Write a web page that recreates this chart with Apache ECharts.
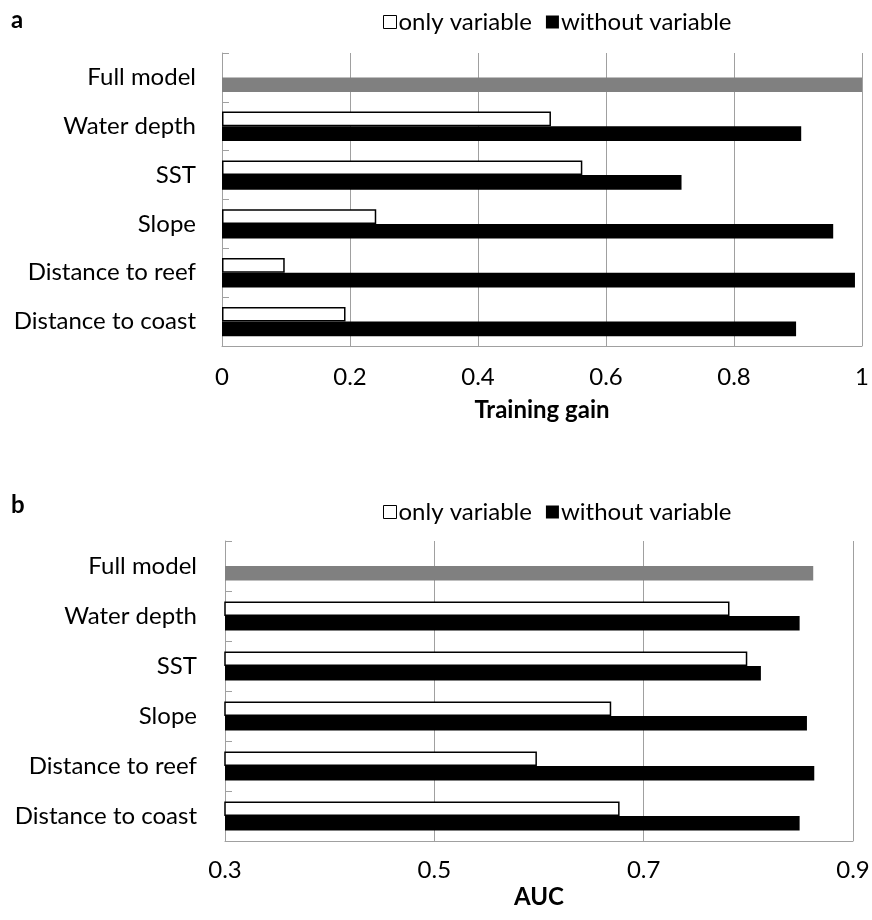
<!DOCTYPE html>
<html>
<head>
<meta charset="utf-8">
<script src="https://cdn.jsdelivr.net/npm/echarts@6/dist/echarts.min.js"></script>
<style>
html,body{margin:0;padding:0;background:#fff;}
#chart{width:872px;height:920px;}
</style>
</head>
<body>
<div id="chart"></div>
<script>
const categories = ['Full model', 'Water depth', 'SST', 'Slope', 'Distance to reef', 'Distance to coast'];
const gainOnly = [null, 0.514, 0.563, 0.241, 0.098, 0.193];
const gainWithout = [1.0, 0.905, 0.718, 0.955, 0.989, 0.897];
const aucOnly = [null, 0.782, 0.799, 0.669, 0.598, 0.677];
const aucWithout = [0.862, 0.849, 0.812, 0.856, 0.863, 0.849];
const gainTicks = ['0', '0.2', '0.4', '0.6', '0.8', '1'];
const aucTicks = ['0.3', '0.5', '0.7', '0.9'];
const seriesNames = ['only variable', 'without variable'];
const panelLabels = ['a', 'b'];
const axisTitles = ['Training gain', 'AUC'];

const FONT = 'Lato';
const FS = 24;
const GRAY_LINE = '#a0a0a0';
const FULL_GRAY = '#808080';

function withoutData(arr) {
  return arr.map((v, i) => i === 0 ? { value: v, itemStyle: { color: FULL_GRAY } } : v);
}

function yAxisCfg(gridIndex, margin) {
  return {
    type: 'category', gridIndex, data: categories, inverse: true,
    axisLine: { show: true, lineStyle: { color: GRAY_LINE, width: 1 } },
    axisTick: { show: true, inside: true, length: 7, alignWithLabel: false, lineStyle: { color: GRAY_LINE } },
    axisLabel: { fontFamily: FONT, fontSize: FS, color: '#000', margin },
    splitLine: { show: false }
  };
}

function xAxisCfg(gridIndex, min, max, ticks, name, labelMargin, nameGap) {
  return {
    type: 'value', gridIndex, min, max, interval: 0.2,
    axisLine: { show: true, lineStyle: { color: GRAY_LINE, width: 1 } },
    axisTick: { show: false },
    splitLine: { show: true, lineStyle: { color: GRAY_LINE, width: 1 } },
    axisLabel: {
      fontFamily: FONT, fontSize: FS, color: '#000', margin: labelMargin,
      formatter: (v) => {
        const idx = Math.round((v - min) / 0.2);
        return ticks[idx] !== undefined ? ticks[idx] : '';
      }
    },
    name, nameLocation: 'middle', nameGap,
    nameTextStyle: { fontFamily: FONT, fontSize: FS, fontWeight: 'bold', color: '#000' }
  };
}

function legendCfg(top) {
  return {
    top, left: 378, itemWidth: 13, itemHeight: 13, itemGap: 14,
    icon: 'rect',
    textStyle: { fontFamily: FONT, fontSize: FS, color: '#000', padding: [0, 0, 0, -3] },
    data: [
      { name: seriesNames[0], itemStyle: { color: '#fff', borderColor: '#000', borderWidth: 1 } },
      { name: seriesNames[1], itemStyle: { color: '#000' } }
    ],
    selectedMode: false
  };
}

const chart = echarts.init(document.getElementById('chart'), null, { renderer: 'canvas' });
chart.setOption({
  backgroundColor: '#fff',
  animation: false,
  title: [
    { text: panelLabels[0], left: 6, top: 3, textStyle: { fontFamily: FONT, fontSize: 24, fontWeight: 'bold', color: '#000' } },
    { text: panelLabels[1], left: 6, top: 488, textStyle: { fontFamily: FONT, fontSize: 24, fontWeight: 'bold', color: '#000' } }
  ],
  legend: [legendCfg(5), legendCfg(495)],
  grid: [
    { left: 222, right: 10, top: 53, height: 293, containLabel: false, outerBoundsMode: 'none' },
    { left: 225, right: 19, top: 541, height: 300, containLabel: false, outerBoundsMode: 'none' }
  ],
  xAxis: [
    xAxisCfg(0, 0, 1, gainTicks, axisTitles[0], 19, 52),
    xAxisCfg(1, 0.3, 0.9, aucTicks, axisTitles[1], 17, 44)
  ],
  yAxis: [yAxisCfg(0, 26), yAxisCfg(1, 28)],
  series: [
    { name: seriesNames[0], type: 'bar', xAxisIndex: 0, yAxisIndex: 0, data: gainOnly,
      barGap: '0%', barCategoryGap: '40%',
      itemStyle: { color: '#fff', borderColor: '#000', borderWidth: 1.5 } },
    { name: seriesNames[1], type: 'bar', xAxisIndex: 0, yAxisIndex: 0, data: withoutData(gainWithout),
      barGap: '0%', barCategoryGap: '40%',
      itemStyle: { color: '#000' } },
    { name: seriesNames[0], type: 'bar', xAxisIndex: 1, yAxisIndex: 1, data: aucOnly,
      barGap: '0%', barCategoryGap: '42%',
      itemStyle: { color: '#fff', borderColor: '#000', borderWidth: 1.5 } },
    { name: seriesNames[1], type: 'bar', xAxisIndex: 1, yAxisIndex: 1, data: withoutData(aucWithout),
      barGap: '0%', barCategoryGap: '42%',
      itemStyle: { color: '#000' } }
  ]
});
</script>
</body>
</html>
